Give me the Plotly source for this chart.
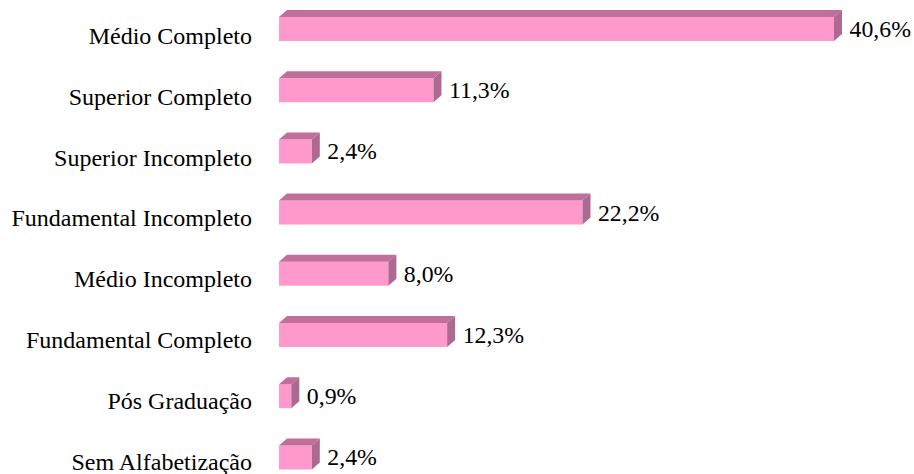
import plotly.graph_objects as go

categories = ["Médio Completo", "Superior Completo", "Superior Incompleto", "Fundamental Incompleto",
              "Médio Incompleto", "Fundamental Completo", "Pós Graduação", "Sem Alfabetização"]
values = [40.6, 11.3, 2.4, 22.2, 8.0, 12.3, 0.9, 2.4]
value_labels = ["40,6%", "11,3%", "2,4%", "22,2%", "8,0%", "12,3%", "0,9%", "2,4%"]

PX_PER_X = 13.67
PX_PER_ROW = 61.2
BAR_PX = 24
DEPTH_X = 8 / PX_PER_X
DEPTH_Y = 7 / PX_PER_ROW
HALF = BAR_PX / PX_PER_ROW / 2
FRONT, TOP, SIDE = "#FF99CC", "#BF6F9A", "#AD6A90"
TICK_FONT = dict(family="Liberation Serif", size=24, color="#000000")
VALUE_FONT = dict(family="Liberation Serif", size=23.8, color="#000000")

rows = list(range(len(categories)))
fig = go.Figure()

for r, v in zip(rows, values):
    fig.add_trace(go.Scatter(
        x=[0, v, v + DEPTH_X, DEPTH_X, 0],
        y=[r - HALF, r - HALF, r - HALF - DEPTH_Y, r - HALF - DEPTH_Y, r - HALF],
        mode="lines", fill="toself", fillcolor=TOP, line=dict(width=0), hoverinfo="skip"))
    fig.add_trace(go.Scatter(
        x=[v, v + DEPTH_X, v + DEPTH_X, v, v],
        y=[r - HALF, r - HALF - DEPTH_Y, r + HALF - DEPTH_Y, r + HALF, r - HALF],
        mode="lines", fill="toself", fillcolor=SIDE, line=dict(width=0), hoverinfo="skip"))

fig.add_trace(go.Bar(x=values, y=rows, orientation="h", width=BAR_PX / PX_PER_ROW,
                     marker=dict(color=FRONT, line=dict(width=0))))

fig.add_trace(go.Scatter(
    x=[v + 15.5 / PX_PER_X for v in values],
    y=[r + 2 / PX_PER_ROW for r in rows],
    mode="text", text=value_labels, textposition="middle right", textfont=VALUE_FONT,
    hoverinfo="skip", cliponaxis=False))

fig.update_layout(
    width=914, height=474, margin=dict(l=279, r=0, t=0, b=0),
    paper_bgcolor="white", plot_bgcolor="white", showlegend=False,
    xaxis=dict(range=[0, 635 / PX_PER_X], visible=False),
    yaxis=dict(range=[445 / PX_PER_ROW, -29 / PX_PER_ROW],
               tickmode="array",
               tickvals=[r * 60.9 / PX_PER_ROW + 6.3 / PX_PER_ROW for r in rows],
               ticktext=categories, tickfont=TICK_FONT, ticks="", ticklabelstandoff=26,
               ticklabeloverflow="allow",
               showgrid=False, zeroline=False, showline=False),
)
fig.write_html("out.html", config={"displayModeBar": False},
               post_script="document.body.style.margin='0';document.body.style.overflow='hidden';")
